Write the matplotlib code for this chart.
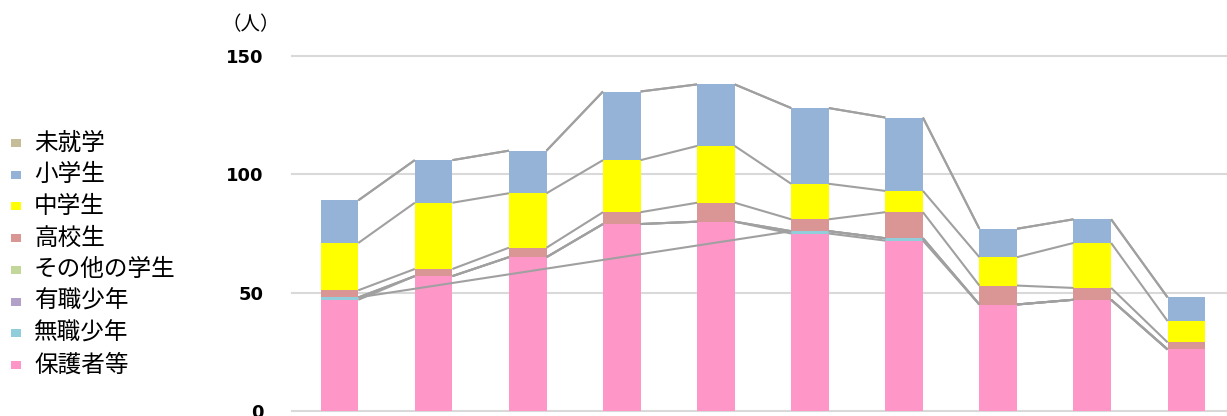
import numpy as np
import matplotlib
matplotlib.use("Agg")
import matplotlib.pyplot as plt
from matplotlib.patches import Rectangle

plt.rcParams['font.family'] = ['Noto Sans CJK JP', 'DejaVu Sans']

# ---- data (bottom to top of stack) ----
series_names = ["保護者等", "無職少年", "有職少年", "その他の学生", "高校生", "中学生", "小学生", "未就学"]
hogosha   = [47, 57, 65, 79, 80, 75, 72, 45, 47, 26]
mushoku   = [1, np.nan, np.nan, np.nan, np.nan, 1, 1, 0, 0, 0]
yushoku   = [0, 0, 0, 0, 0, 0, 0, 0, 0, 0]
sonota    = [0, 0, 0, 0, 0, 0, 0, 0, 0, 0]
koukou    = [3, 3, 4, 5, 8, 5, 11, 8, 5, 3]
chugaku   = [20, 28, 23, 22, 24, 15, 9, 12, 19, 9]
shogaku   = [18, 18, 18, 29, 26, 32, 31, 12, 10, 10]
mishugaku = [0, 0, 0, 0, 0, 0, 0, 0, 0, 0]
categories = list(range(1, 11))
yticks = [0, 50, 100, 150]

colors = ["#FF96C8", "#92CDDC", "#B1A0C7", "#C4D79B", "#DA9694", "#FFFF00", "#95B3D7", "#C4BD97"]
values = [hogosha, mushoku, yushoku, sonota, koukou, chugaku, shogaku, mishugaku]

fig = plt.figure(figsize=(12.27, 4.16), dpi=100)
ax = fig.add_axes([292.45 / 1227, 5 / 416, 941 / 1227, 355 / 416])

x = np.arange(len(categories))
width = 0.4
bottom = np.zeros(len(categories))
tops = []
for vals, col in zip(values, colors):
    v = np.array(vals, dtype=float)
    vv = np.nan_to_num(v)
    ax.bar(x, vv, width, bottom=bottom, color=col, edgecolor='none', zorder=3)
    bottom = bottom + vv
    tops.append((v, bottom.copy()))

# series lines
for v, top in tops:
    idx = [i for i in range(len(v)) if not np.isnan(v[i])]
    for a, b in zip(idx[:-1], idx[1:]):
        ax.plot([x[a] + width / 2, x[b] - width / 2], [top[a], top[b]],
                color="#A0A0A0", lw=1.5, zorder=4, solid_capstyle='butt')

for yv in yticks:
    ax.axhline(yv, color="#D9D9D9", lw=1.5, zorder=1, clip_on=False)

ax.set_xlim(-0.5, 9.5)
ax.set_ylim(0, 150)
ax.set_yticks(yticks)
ax.set_yticklabels([str(t) for t in yticks], fontsize=13, fontweight='bold', family='DejaVu Sans')
ax.tick_params(axis='y', length=0, pad=21)
ax.set_xticks(x)
ax.set_xticklabels([])
ax.tick_params(axis='x', length=0)
for s in ax.spines.values():
    s.set_visible(False)

fig.text(251 / 1227, 1 - 25 / 416, "（人）", ha='center', va='center', fontsize=14)

# legend (top to bottom reversed order)
y_first = 143
dy = 31.7
for k, (name, col) in enumerate(zip(series_names[::-1], colors[::-1])):
    yc = y_first + k * dy
    fig.patches.append(Rectangle((10.5 / 1227, 1 - (yc + 4) / 416), 10 / 1227, 8 / 416,
                                 transform=fig.transFigure, facecolor=col, edgecolor='none'))
    fig.text(34 / 1227, 1 - yc / 416, name, ha='left', va='center', fontsize=17)

fig.savefig("out.png", dpi=100)
